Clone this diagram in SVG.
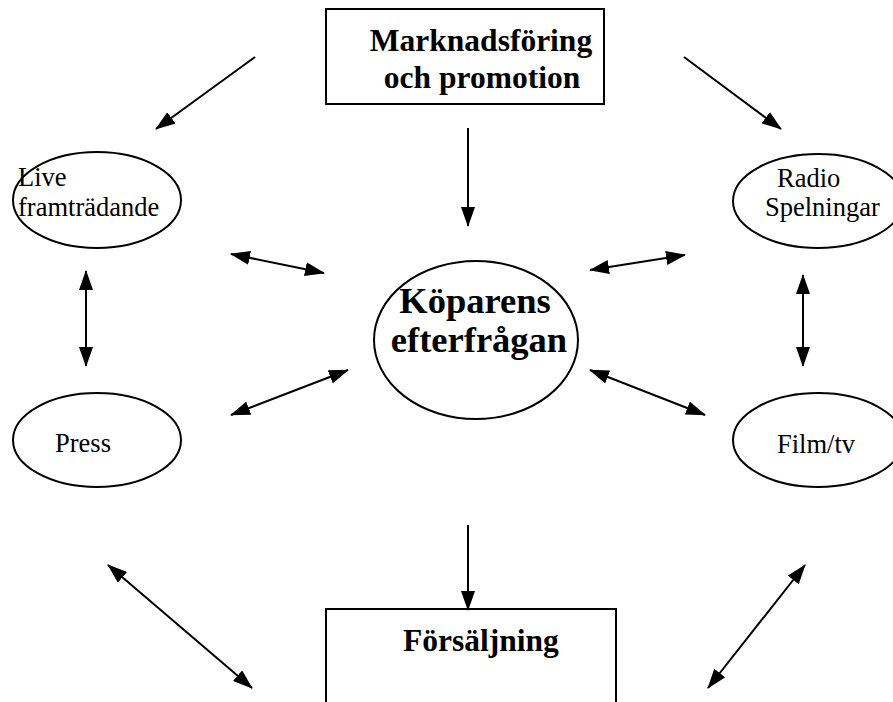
<svg xmlns="http://www.w3.org/2000/svg" width="893" height="702" viewBox="0 0 893 702">
<style>
.shape{fill:#fff;stroke:#000;stroke-width:2}
.reg{font-family:"Liberation Serif","Times New Roman",serif;font-size:26.5px;fill:#000}
.bold{font-family:"Liberation Serif","Times New Roman",serif;font-size:31.5px;font-weight:bold;fill:#000}
.big{font-size:36.5px}
.conn line{stroke:#000;stroke-width:2}
</style>
<defs>
<marker id="ah" viewBox="0 0 20 14" refX="19" refY="7" markerWidth="20" markerHeight="14" markerUnits="userSpaceOnUse" orient="auto-start-reverse">
<path d="M0,0 L20,7 L0,14 z" fill="#000"/>
</marker>
</defs>
<rect width="893" height="702" fill="#fff"/>
<g id="marknadsforing">
<rect class="shape" x="326" y="9" width="278" height="95"/>
<text class="bold" x="481" y="51" text-anchor="middle">Marknadsföring</text>
<text class="bold" x="482" y="88" text-anchor="middle">och promotion</text>
</g>
<g id="live">
<ellipse class="shape" cx="97" cy="200" rx="84" ry="48"/>
<text class="reg" x="18" y="186">Live</text>
<text class="reg" x="18" y="216">framträdande</text>
</g>
<g id="radio">
<ellipse class="shape" cx="818" cy="201" rx="85" ry="47"/>
<text class="reg" x="777" y="187">Radio</text>
<text class="reg" x="765" y="216">Spelningar</text>
</g>
<g id="koparens">
<ellipse class="shape" cx="476" cy="340" rx="102" ry="79"/>
<text class="bold big" x="475" y="313" text-anchor="middle">Köparens</text>
<text class="bold big" x="479" y="352" text-anchor="middle">efterfrågan</text>
</g>
<g id="press">
<ellipse class="shape" cx="97" cy="440" rx="84" ry="47"/>
<text class="reg" x="55" y="452">Press</text>
</g>
<g id="filmtv">
<ellipse class="shape" cx="818" cy="440" rx="85" ry="47"/>
<text class="reg" x="777" y="453">Film/tv</text>
</g>
<g id="forsaljning">
<rect class="shape" x="326" y="609" width="290" height="110"/>
<text class="bold" x="481" y="651" text-anchor="middle">Försäljning</text>
</g>
<g class="conn" id="connectors">
<line x1="255" y1="57" x2="156" y2="129" marker-end="url(#ah)"/>
<line x1="684" y1="57" x2="781" y2="129" marker-end="url(#ah)"/>
<line x1="468" y1="128" x2="468" y2="226" marker-end="url(#ah)"/>
<line x1="231" y1="254" x2="324" y2="273" marker-start="url(#ah)" marker-end="url(#ah)"/>
<line x1="685" y1="255" x2="590" y2="270" marker-start="url(#ah)" marker-end="url(#ah)"/>
<line x1="86" y1="271" x2="86" y2="366" marker-start="url(#ah)" marker-end="url(#ah)"/>
<line x1="803" y1="275" x2="803" y2="366" marker-start="url(#ah)" marker-end="url(#ah)"/>
<line x1="231" y1="415" x2="348" y2="370" marker-start="url(#ah)" marker-end="url(#ah)"/>
<line x1="590" y1="370" x2="705" y2="415" marker-start="url(#ah)" marker-end="url(#ah)"/>
<line x1="468" y1="525" x2="468" y2="610" marker-end="url(#ah)"/>
<line x1="108" y1="565" x2="252" y2="688" marker-start="url(#ah)" marker-end="url(#ah)"/>
<line x1="805" y1="565" x2="708" y2="688" marker-start="url(#ah)" marker-end="url(#ah)"/>
</g>
</svg>
